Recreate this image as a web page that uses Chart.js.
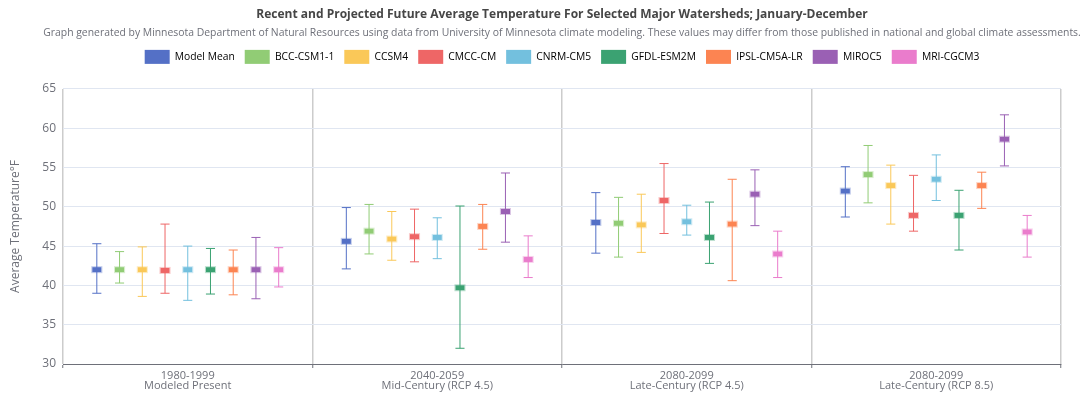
<!DOCTYPE html>
<html>
<head>
<meta charset="utf-8">
<script src="https://cdn.jsdelivr.net/npm/chart.js@4/dist/chart.umd.min.js"></script>
<style>
  html, body { margin: 0; padding: 0; background: #fff; overflow: hidden; }
  #wrap { width: 1124px; height: 396px; }
</style>
</head>
<body>
<div id="wrap"><canvas id="temps" width="1124" height="396"></canvas></div>
<script>
// periods on the x axis (two-line labels)
const periods = [
    ['1980-1999', 'Modeled Present'],
    ['2040-2059', 'Mid-Century (RCP 4.5)'],
    ['2080-2099', 'Late-Century (RCP 4.5)'],
    ['2080-2099', 'Late-Century (RCP 8.5)']
];

const models = ['Model Mean', 'BCC-CSM1-1', 'CCSM4', 'CMCC-CM', 'CNRM-CM5',
    'GFDL-ESM2M', 'IPSL-CM5A-LR', 'MIROC5', 'MRI-CGCM3'];

const colors = ['#5470c6', '#91cc75', '#fac858', '#ee6666', '#73c0de',
    '#3ba272', '#fc8452', '#9a60b4', '#ea7ccc'];

// one row per model, one column per period (°F)
const meanTemps = [
    [42.0, 45.6, 48.0, 52.0],
    [42.0, 46.9, 47.9, 54.1],
    [42.0, 45.9, 47.7, 52.7],
    [41.9, 46.2, 50.8, 48.9],
    [42.0, 46.1, 48.1, 53.5],
    [42.0, 39.7, 46.1, 48.9],
    [42.0, 47.5, 47.8, 52.7],
    [42.0, 49.4, 51.6, 58.6],
    [42.0, 43.3, 44.0, 46.8]
];
const lowTemps = [
    [39.0, 42.1, 44.1, 48.7],
    [40.3, 44.0, 43.6, 50.5],
    [38.6, 43.2, 44.2, 47.8],
    [39.0, 43.0, 46.6, 46.9],
    [38.1, 43.4, 46.4, 50.8],
    [38.9, 32.0, 42.8, 44.5],
    [38.8, 44.6, 40.6, 49.8],
    [38.3, 45.5, 47.6, 55.2],
    [39.8, 41.0, 41.0, 43.6]
];
const highTemps = [
    [45.3, 49.9, 51.8, 55.1],
    [44.3, 50.3, 51.2, 57.8],
    [44.9, 49.4, 51.6, 55.3],
    [47.8, 49.7, 55.5, 54.0],
    [45.0, 48.6, 50.2, 56.6],
    [44.7, 50.1, 50.6, 52.1],
    [44.5, 50.3, 53.5, 54.4],
    [46.1, 54.3, 54.7, 61.7],
    [44.8, 46.3, 46.9, 48.9]
];

const yTicks = { min: 30, max: 65, step: 5 };

const FONT = "'Open Sans', 'Noto Sans', sans-serif";
const AXIS_GRAY = '#6e7079';

// floating bars carry the range; the whisker + mean box is drawn on top of them
const datasets = models.map((name, i) => ({
    label: name,
    data: periods.map((p, j) => [lowTemps[i][j], highTemps[i][j]]),
    means: meanTemps[i],
    color: colors[i],
    backgroundColor: 'rgba(0,0,0,0)',
    borderWidth: 0
}));

function hexAlpha(hex, a) {
    const n = parseInt(hex.slice(1), 16);
    return `rgba(${n >> 16}, ${(n >> 8) & 255}, ${n & 255}, ${a})`;
}

const whiskers = {
    id: 'whiskers',
    afterDatasetsDraw(chart) {
        const y = chart.scales.y;
        const ctx = chart.ctx;
        ctx.save();
        chart.data.datasets.forEach((ds, i) => {
            const meta = chart.getDatasetMeta(i);
            if (meta.hidden) return;
            meta.data.forEach((bar, j) => {
                const x = bar.x;
                const half = bar.width / 2;
                const top = y.getPixelForValue(ds.data[j][1]);
                const bottom = y.getPixelForValue(ds.data[j][0]);
                const mid = y.getPixelForValue(ds.means[j]);

                ctx.strokeStyle = ds.color;
                ctx.lineWidth = 1;
                ctx.beginPath();
                ctx.moveTo(x, top);
                ctx.lineTo(x, bottom);
                ctx.moveTo(x - half, top);
                ctx.lineTo(x + half, top);
                ctx.moveTo(x - half, bottom);
                ctx.lineTo(x + half, bottom);
                ctx.stroke();

                // mean marker
                ctx.fillStyle = ds.color;
                ctx.fillRect(x - half, mid - 2.5, half * 2, 5);
                ctx.strokeStyle = hexAlpha(ds.color, 0.35);
                ctx.strokeRect(x - half - 0.5, mid - 3, half * 2 + 1, 6);
            });
        });
        ctx.restore();
    }
};

// empty scale used only to reserve room on one side of the plot
function spacer(position, size) {
    const horizontal = position === 'top' || position === 'bottom';
    return {
        type: 'linear',
        position: position,
        display: true,
        grid: { display: false, drawTicks: false },
        border: { display: false },
        ticks: { display: false },
        afterFit(scale) {
            if (horizontal) scale.height = size;
            else scale.width = size;
        }
    };
}

new Chart(document.getElementById('temps'), {
    type: 'bar',
    data: { labels: periods, datasets: datasets },
    plugins: [whiskers],
    options: {
        responsive: false,
        animation: false,
        categoryPercentage: 0.82,
        barPercentage: 0.4,
        layout: { padding: 0 },
        plugins: {
            title: {
                display: true,
                text: 'Recent and Projected Future Average Temperature For Selected Major Watersheds; January-December',
                color: '#464646',
                font: { family: FONT, size: 12, weight: 'bold' },
                padding: { top: 7, bottom: 4 }
            },
            subtitle: {
                display: true,
                text: 'Graph generated by Minnesota Department of Natural Resources using data from University of Minnesota climate modeling. These values may differ from those published in national and global climate assessments.',
                color: '#6e7079',
                font: { family: FONT, size: 10.4 },
                padding: { top: 1, bottom: 1 }
            },
            legend: {
                labels: {
                    boxWidth: 25,
                    boxHeight: 14,
                    useBorderRadius: true,
                    borderRadius: 4,
                    padding: 10,
                    color: '#333',
                    font: { family: FONT, size: 10.3 },
                    generateLabels(chart) {
                        return chart.data.datasets.map((ds, i) => ({
                            text: ds.label,
                            fillStyle: ds.color,
                            strokeStyle: ds.color,
                            lineWidth: 0,
                            hidden: !chart.isDatasetVisible(i),
                            datasetIndex: i
                        }));
                    }
                }
            },
            tooltip: { enabled: false }
        },
        scales: {
            x: {
                grid: {
                    offset: true,
                    color: '#cccccc',
                    lineWidth: 1.5,
                    tickLength: 4,
                    tickColor: AXIS_GRAY,
                    tickWidth: 1
                },
                border: { color: AXIS_GRAY, width: 1 },
                ticks: {
                    color: AXIS_GRAY,
                    padding: 3,
                    font: { family: FONT, size: 11, lineHeight: '10px' }
                },
                afterFit(scale) { scale.height = 32; }
            },
            gapTop: spacer('top', 15),
            gapRight: spacer('right', 63),
            y: {
                min: yTicks.min,
                max: yTicks.max,
                ticks: {
                    stepSize: yTicks.step,
                    color: AXIS_GRAY,
                    padding: 7,
                    font: { family: FONT, size: 12 }
                },
                grid: { color: '#e0e6f1', drawTicks: false },
                border: { display: false },
                title: {
                    display: true,
                    text: 'Average Temperature°F',
                    color: AXIS_GRAY,
                    font: { family: FONT, size: 12 },
                    padding: { top: 8, bottom: 0 }
                },
                afterFit(scale) { scale.width = 63; }
            }
        }
    }
});
</script>
</body>
</html>
